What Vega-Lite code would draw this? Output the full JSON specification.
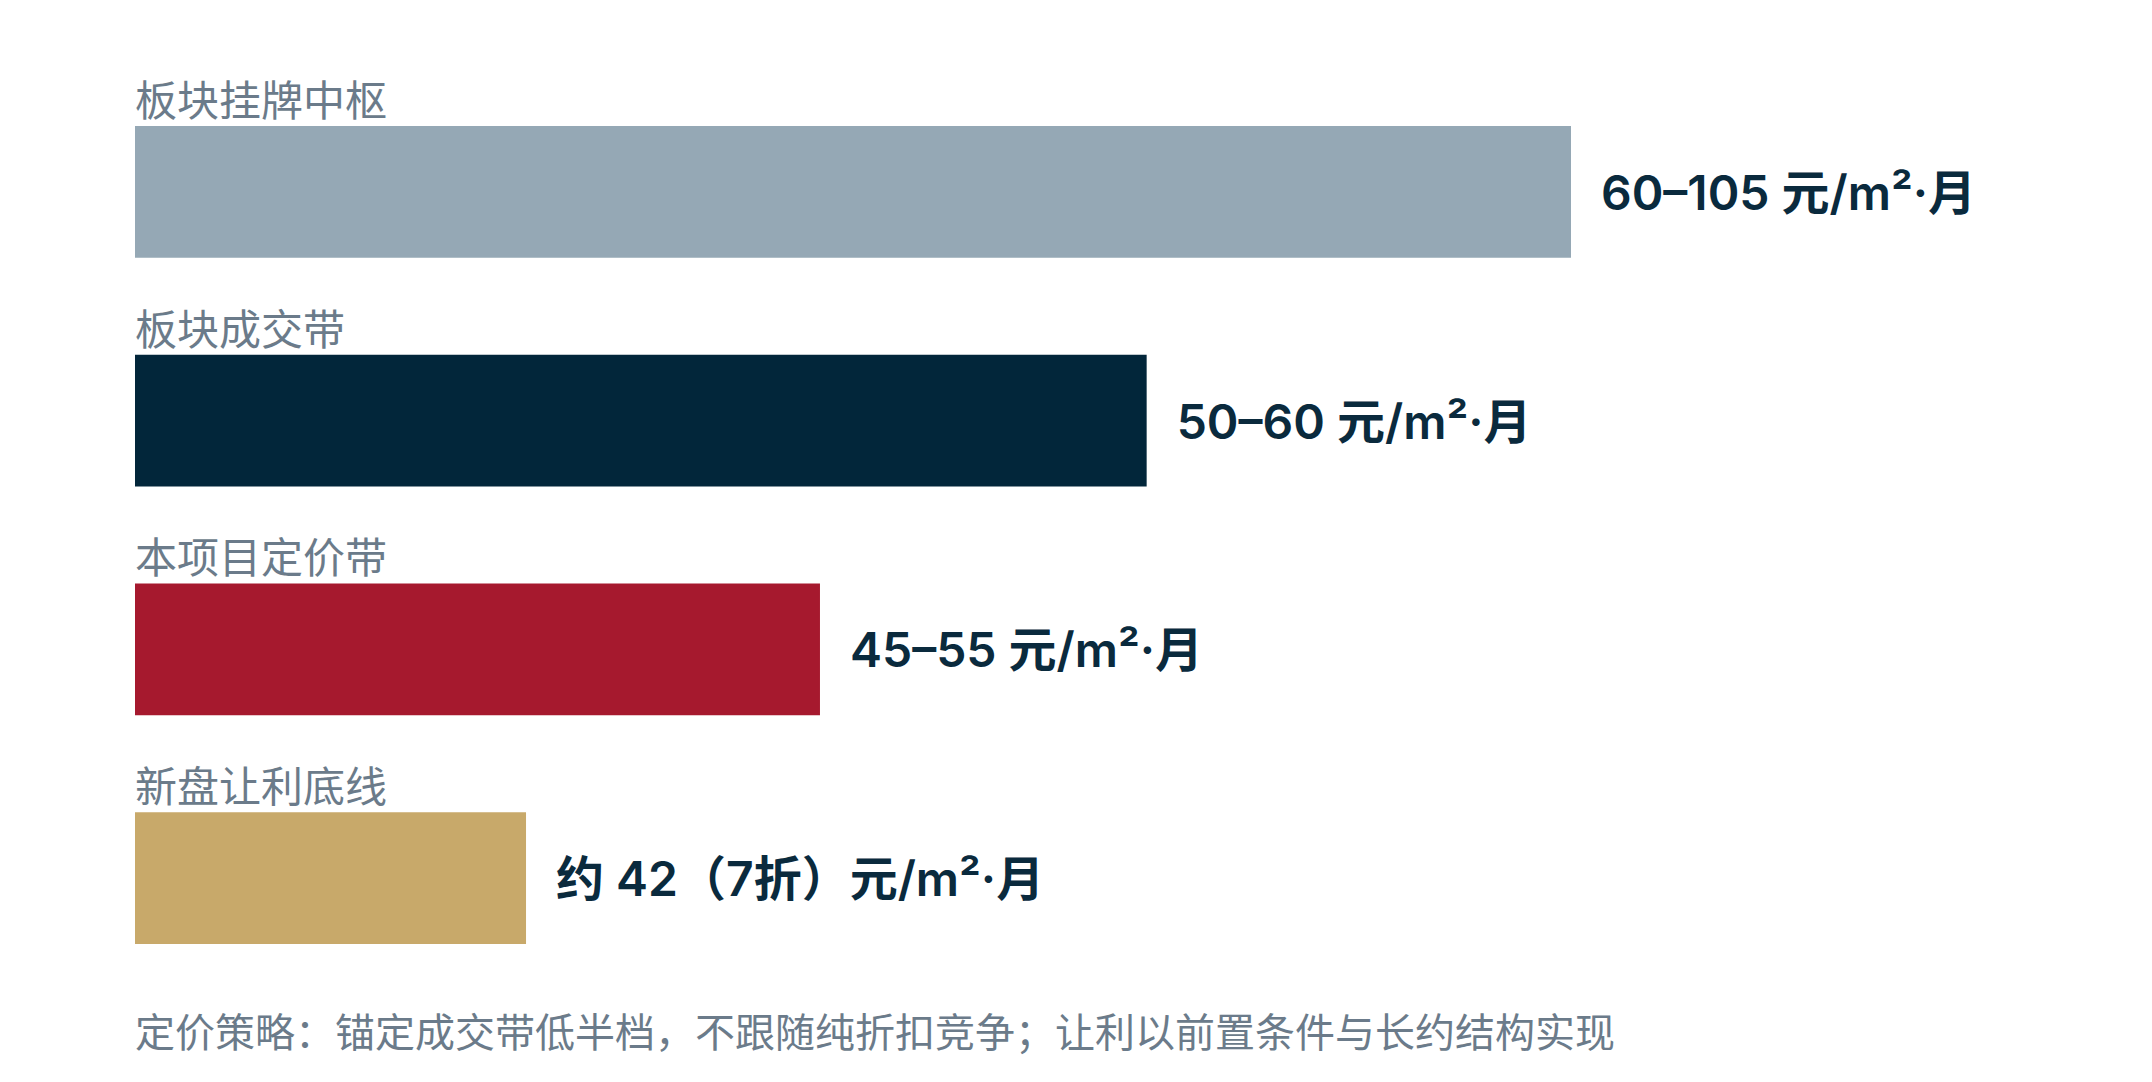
{
  "$schema": "https://vega.github.io/schema/vega-lite/v6.json",
  "autosize": {"type": "none"},
  "padding": {"left": 135, "right": 581, "top": 126, "bottom": 138},
  "width": 1436,
  "height": 818,
  "background": "#ffffff",
  "config": {"view": {"stroke": null}},
  "title": {
    "text": "定价策略：锚定成交带低半档，不跟随纯折扣竞争；让利以前置条件与长约结构实现",
    "orient": "bottom",
    "anchor": "start",
    "frame": "group",
    "offset": 103,
    "baseline": "alphabetic",
    "font": "Noto Sans CJK SC",
    "fontSize": 40,
    "fontWeight": "normal",
    "color": "#6B7B8A"
  },
  "data": {
    "values": [
      {"label": "板块挂牌中枢", "share": 100, "valueText": "60–105 元/m²·月"},
      {"label": "板块成交带", "share": 70.45, "valueText": "50–60 元/m²·月"},
      {"label": "本项目定价带", "share": 47.7, "valueText": "45–55 元/m²·月"},
      {"label": "新盘让利底线", "share": 27.23, "valueText": "约 42（7折）元/m²·月"}
    ]
  },
  "encoding": {
    "y": {
      "field": "label",
      "type": "nominal",
      "sort": null,
      "axis": null,
      "scale": {"paddingInner": 0.4241, "paddingOuter": 0}
    }
  },
  "layer": [
    {
      "mark": {"type": "bar", "cornerRadius": 0},
      "encoding": {
        "x": {"field": "share", "type": "quantitative", "axis": null, "scale": {"domain": [0, 100], "nice": false}},
        "color": {
          "field": "label",
          "type": "nominal",
          "legend": null,
          "scale": {
            "domain": ["板块挂牌中枢", "板块成交带", "本项目定价带", "新盘让利底线"],
            "range": ["#95A8B5", "#02263A", "#A6192E", "#C8A96A"]
          }
        }
      }
    },
    {
      "mark": {
        "type": "text",
        "align": "left",
        "baseline": "alphabetic",
        "dy": -76,
        "font": "Noto Sans CJK SC",
        "fontSize": 42,
        "color": "#6B7B8A"
      },
      "encoding": {
        "x": {"datum": 0, "type": "quantitative"},
        "text": {"field": "label"}
      }
    },
    {
      "mark": {
        "type": "text",
        "align": "left",
        "baseline": "alphabetic",
        "dx": 30,
        "dy": 18,
        "font": "Inter, 'Noto Sans CJK SC'",
        "fontSize": 48,
        "fontWeight": 600,
        "color": "#0A2A3D"
      },
      "encoding": {
        "x": {"field": "share", "type": "quantitative"},
        "text": {"field": "valueText"}
      }
    }
  ]
}
